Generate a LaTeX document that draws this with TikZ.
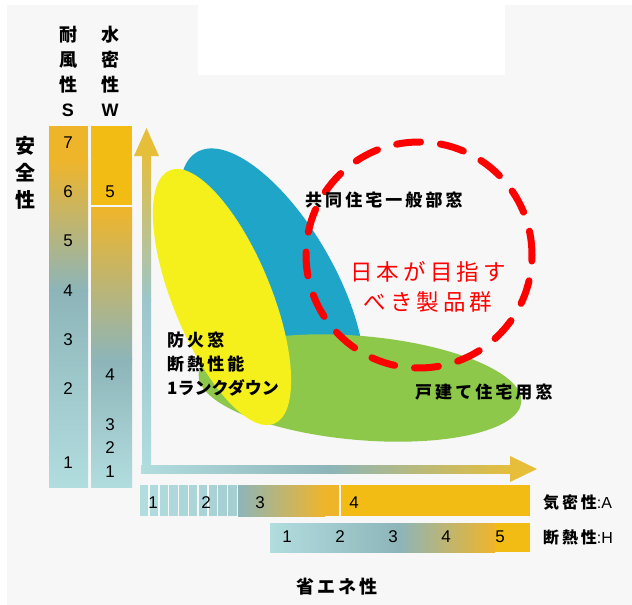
\documentclass[tikz,border=0pt]{standalone}
\usepackage{fontspec}
\setmainfont{Liberation Sans}
\newfontfamily\jp{Noto Sans CJK JP}[LetterSpace=18]
\newfontfamily\jpv{Noto Sans CJK JP}
\definecolor{panelbg}{HTML}{F7F7F7}
\definecolor{gold}{HTML}{F3BC14}
\definecolor{goldS}{HTML}{EFB52A}
\definecolor{axgold}{HTML}{E6BE3A}
\definecolor{grayteal}{HTML}{8DB5B9}
\definecolor{midteal}{HTML}{9CC6CA}
\definecolor{lightteal}{HTML}{B2DDDF}
\definecolor{ellblue}{HTML}{1EA5C8}
\definecolor{ellyellow}{HTML}{F5F01C}
\definecolor{ellgreen}{HTML}{8DC84B}
\definecolor{redline}{HTML}{FF0000}
\tikzset{
  num/.style={inner sep=0pt, font=\fontsize{17}{17}\selectfont},
  lbl/.style={inner sep=0pt, anchor=west, font=\jp\bfseries\fontsize{17}{17}\selectfont},
  vlbl/.style={inner sep=0pt, align=center, font=\jpv\bfseries\fontsize{18}{25}\selectfont},
}
\begin{document}
\begin{tikzpicture}[x=1pt,y=-1pt]
\useasboundingbox (0,0) rectangle (632,605);
\fill[white] (0,0) rectangle (632,605);
\fill[panelbg] (7,5) rectangle (632,605);
\fill[white] (198,5) rectangle (505,75);
% S column
\fill[goldS] (49,126) rectangle (88,160);
\fill[top color=goldS, bottom color=grayteal] (49,159.5) rectangle (88,290);
\fill[top color=grayteal, bottom color=lightteal] (49,289.5) rectangle (88,487);
% W column
\fill[gold] (91,126) rectangle (132,205);
\fill[top color=goldS, bottom color=grayteal] (91,207) rectangle (132,360);
\fill[top color=grayteal, bottom color=lightteal] (91,359.5) rectangle (132,487);
% vertical axis
\fill[top color=axgold, bottom color=midteal] (142,150) rectangle (151,300);
\fill[top color=midteal, bottom color=lightteal] (142,299.5) rectangle (151,473);
\fill[axgold] (134,156) -- (146.5,128) -- (159,156) -- cycle;
% horizontal axis
\fill[left color=lightteal, right color=grayteal] (141,465) rectangle (330,473);
\fill[left color=grayteal, right color=axgold] (329.5,465) rectangle (512,473);
\fill[axgold] (510,456) -- (537,469) -- (510,482) -- cycle;
% A bar
\foreach \i in {0,...,9}{
  \pgfmathsetmacro{\mix}{100-4*\i}
  \fill[lightteal!\mix!grayteal] (140+9.8*\i,485) rectangle (140+9.8*\i+8.3,516);
}
\fill[left color=grayteal, right color=goldS] (238,485) rectangle (325,516);
\fill[goldS] (324.5,485) rectangle (339,516);
\fill[gold] (341,485) rectangle (530,516);
% H bar
\fill[left color=lightteal, right color=grayteal] (270,523) rectangle (400,552);
\fill[left color=grayteal, right color=goldS] (399.5,523) rectangle (495,552);
\fill[gold] (494.5,523) rectangle (530,552);
% ellipses
\begin{scope}[shift={(272,282)}, rotate=-60]
  \fill[ellblue] (0,0) ellipse [x radius=150pt, y radius=62pt];
\end{scope}
\begin{scope}[shift={(360,388)}, rotate=-5]
  \fill[ellgreen] (0,0) ellipse [x radius=162pt, y radius=52pt];
\end{scope}
\begin{scope}[shift={(222,297)}, rotate=-67.6]
  \fill[ellyellow] (0,0) ellipse [x radius=137pt, y radius=49pt];
\end{scope}
% red dashed circle
\draw[redline, line width=7pt, line cap=round, dash pattern=on 24pt off 20pt] (419,255) circle [radius=113pt];
% texts
\node[vlbl] (hS) at (68,71) {耐\\風\\性\\{\fontspec{Liberation Sans}\bfseries S}};
\node[vlbl] (hW) at (110,71) {水\\密\\性\\{\fontspec{Liberation Sans}\bfseries W}};
\node[vlbl, font=\jpv\bfseries\fontsize{20}{27}\selectfont] (anz) at (25,173) {安\\全\\性};
\node[num] (s7) at (68,143) {7};
\node[num] (s6) at (68,192) {6};
\node[num] (s5) at (68,241) {5};
\node[num] (s4) at (68,291) {4};
\node[num] (s3) at (68,340) {3};
\node[num] (s2) at (68,389) {2};
\node[num] (s1) at (68,463) {1};
\node[num] (w5) at (110,192) {5};
\node[num] (w4) at (110,375) {4};
\node[num] (w3) at (110,425) {3};
\node[num] (w2) at (110,448) {2};
\node[num] (w1) at (110,472) {1};
\node[num] (a1) at (153,503) {1};
\node[num] (a2) at (206,503) {2};
\node[num] (a3) at (260,503) {3};
\node[num] (a4) at (354,503) {4};
\node[num] (h1) at (287,537) {1};
\node[num] (h2) at (340,537) {2};
\node[num] (h3) at (393,537) {3};
\node[num] (h4) at (446,537) {4};
\node[num] (h5) at (500,537) {5};
\node[lbl, font=\jp\bfseries\fontsize{16}{16}\selectfont] (labA) at (543,503) {気密性{\fontspec{Liberation Sans}\mdseries :A}};
\node[lbl, font=\jp\bfseries\fontsize{16}{16}\selectfont] (labH) at (543,537) {断熱性{\fontspec{Liberation Sans}\mdseries :H}};
\node[lbl, anchor=center, font=\jp\bfseries\fontsize{18}{18}\selectfont] (sho) at (337,587) {省エネ性};
\node[lbl] (kyodo) at (305,200) {共同住宅一般部窓};
\node[lbl] (kodate) at (415,392) {戸建て住宅用窓};
\node[lbl, align=left, font=\jp\bfseries\fontsize{17}{24}\selectfont] (bouka) at (167,364) {防火窓\\断熱性能\\{\jpv 1ランクダウン}};
\node[inner sep=0pt, align=center, text=redline, font=\jp\fontsize{22.5}{30}\selectfont] (nihon) at (428,287) {日本が目指す\\べき製品群};
\end{tikzpicture}
\end{document}
